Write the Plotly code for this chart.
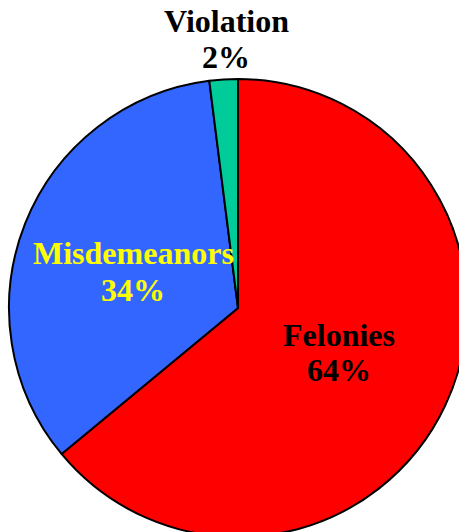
import plotly.graph_objects as go

categories = ["Felonies", "Misdemeanors", "Violation"]
values = [64, 34, 2]
slice_colors = ["#FF0000", "#3366FF", "#00CC99"]
label_colors = ["#000000", "#FFFF00", "#000000"]

# figure geometry (pixels); canvas is larger than the viewport so the pie is clipped like the reference
W, H = 480, 560
cx, cy, r = 238, 308, 229

# label anchor positions in pixels: (x, y of name line centre, y of percent line centre)
label_pos = [(339, 335, 370), (133, 253, 290), (226, 21, 57)]
font_size = 32

total = sum(values)

fig = go.Figure(
    go.Pie(
        labels=categories,
        values=values,
        marker=dict(colors=slice_colors, line=dict(color="black", width=2)),
        sort=False,
        direction="clockwise",
        rotation=0,
        textinfo="none",
        hoverinfo="label+percent",
        showlegend=False,
        domain=dict(x=[(cx - r) / W, (cx + r) / W], y=[(H - cy - r) / H, (H - cy + r) / H]),
    )
)

annotations = []
for cat, val, col, (px, py1, py2) in zip(categories, values, label_colors, label_pos):
    pct = f"{round(val / total * 100)}%"
    for txt, py in ((cat, py1), (pct, py2)):
        annotations.append(
            dict(
                text=txt,
                x=px / W,
                y=1 - py / H,
                xref="paper",
                yref="paper",
                xanchor="center",
                yanchor="middle",
                showarrow=False,
                font=dict(family="'Liberation Serif', 'Times New Roman', serif",
                          size=font_size, color=col, weight="bold"),
            )
        )

fig.update_layout(
    width=W,
    height=H,
    margin=dict(l=0, r=0, t=0, b=0),
    paper_bgcolor="white",
    plot_bgcolor="white",
    annotations=annotations,
)

fig.write_html(
    "out.html",
    config={"displayModeBar": False},
    post_script="document.body.style.margin='0';document.body.style.overflow='hidden';",
)
